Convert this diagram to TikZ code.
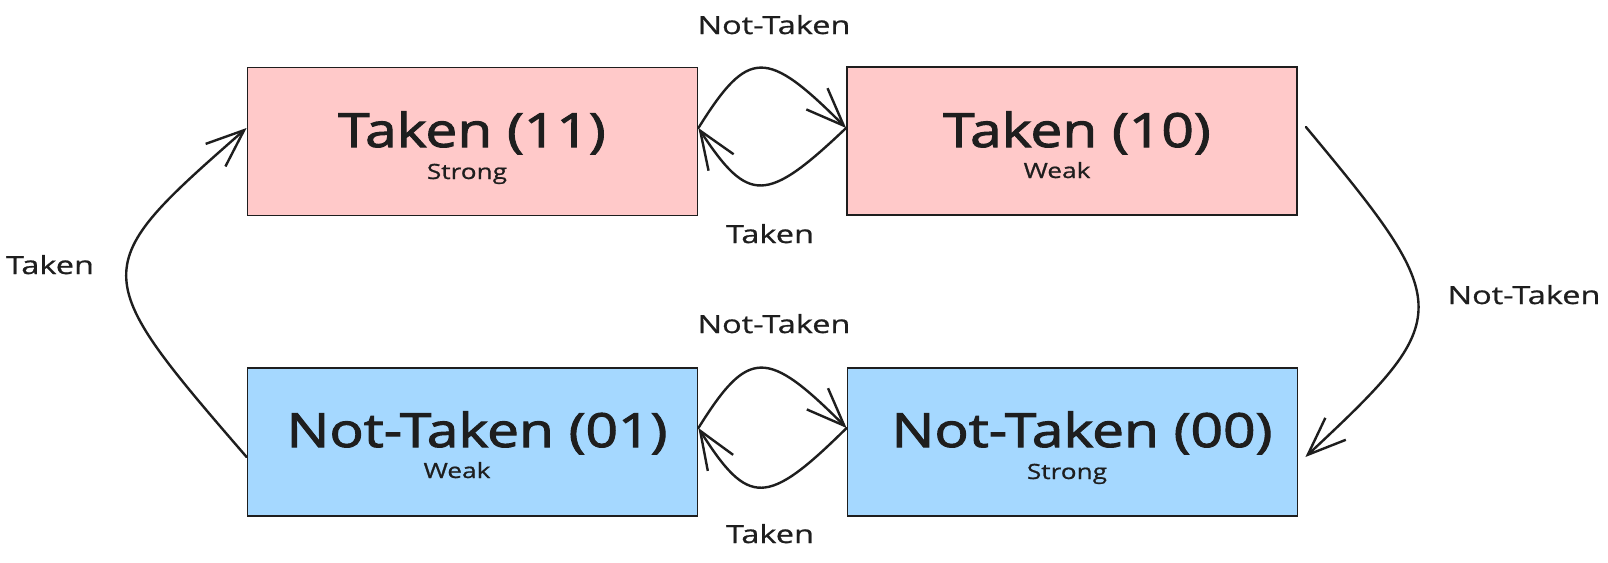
\documentclass[tikz,border=0pt]{standalone}
\usepackage{fontspec}
\setmainfont[FakeStretch=1.2]{Open Sans}
\newfontfamily\bigfam[FakeStretch=1.21,FakeBold=2.2]{Open Sans}
\newfontfamily\subfam[FakeStretch=1.25,FakeBold=0.8]{Open Sans}
\newfontfamily\edgefam[FakeStretch=1.3,FakeBold=0.8]{Open Sans}
\usetikzlibrary{arrows.meta,calc}
\definecolor{ink}{HTML}{1E1E1E}
\definecolor{pinkfill}{HTML}{FFC9C9}
\definecolor{bluefill}{HTML}{A5D8FF}
\begin{document}
\begin{tikzpicture}[x=1pt,y=-1pt,
  statebox/.style={draw=ink, line width=1.8pt, minimum width=450pt, minimum height=148pt, inner sep=0pt},
  bigtxt/.style={font=\bigfam\fontsize{47}{50}\selectfont, text=ink, anchor=base, inner sep=0pt},
  subtxt/.style={font=\subfam\fontsize{21}{24}\selectfont, text=ink, anchor=base, inner sep=0pt},
  edgetxt/.style={font=\edgefam\fontsize{25}{28}\selectfont, text=ink, anchor=base, inner sep=0pt},
  conn/.style={draw=ink, line width=2.4pt, line cap=round, line join=round,
    -{Straight Barb[length=38pt,width=30pt,line width=2.4pt]}}
]
\useasboundingbox[fill=white] (0,0) rectangle (1608,562);
% state boxes
\node[statebox, fill=pinkfill] (s11) at (472.5,141.5) {};
\node[statebox, fill=pinkfill] (s10) at (1072,141) {};
\node[statebox, fill=bluefill] (s01) at (472.5,442) {};
\node[statebox, fill=bluefill] (s00) at (1072.5,442) {};
% box texts
\node[bigtxt] (t11) at (472,147) {Taken (11)};
\node[subtxt] (u11) at (467,179) {Strong};
\node[bigtxt] (t10) at (1077,147) {Taken (10)};
\node[subtxt] (u10) at (1057,178) {Weak};
\node[bigtxt] (t01) at (477,447) {Not-Taken (01)};
\node[subtxt] (u01) at (457,478) {Weak};
\node[bigtxt] (t00) at (1082,447) {Not-Taken (00)};
\node[subtxt] (u00) at (1067,479) {Strong};
% edge labels
\node[edgetxt] (l1) at (774,34) {Not-Taken};
\node[edgetxt] (l2) at (770,243) {Taken};
\node[edgetxt] (l3) at (774,333) {Not-Taken};
\node[edgetxt] (l4) at (770,543) {Taken};
\node[edgetxt] (l5) at (50,274) {Taken};
\node[edgetxt] (l6) at (1524,304) {Not-Taken};
% connectors
\draw[conn] ($(s11.east)+(0,-13.5)$) .. controls +(50,-80) and +(-80,-80) .. ($(s10.west)+(0,-13)$);
\draw[conn] ($(s10.west)+(0,-13)$) .. controls +(-80,76) and +(50,76) .. ($(s11.east)+(0,-13.5)$);
\draw[conn] ($(s01.east)+(0,-14)$) .. controls +(50,-80) and +(-80,-80) .. ($(s00.west)+(0,-14)$);
\draw[conn] ($(s00.west)+(0,-14)$) .. controls +(-80,79) and +(50,79) .. ($(s01.east)+(0,-14)$);
\draw[conn] ($(s01.west)+(0,15)$) .. controls +(-160,-185) and +(-160,140) .. ($(s11.west)+(0,-13.5)$);
\draw[conn] ($(s10.east)+(8,-14)$) .. controls +(150,180) and +(150,-140) .. ($(s00.east)+(7,15)$);
\end{tikzpicture}
\end{document}
